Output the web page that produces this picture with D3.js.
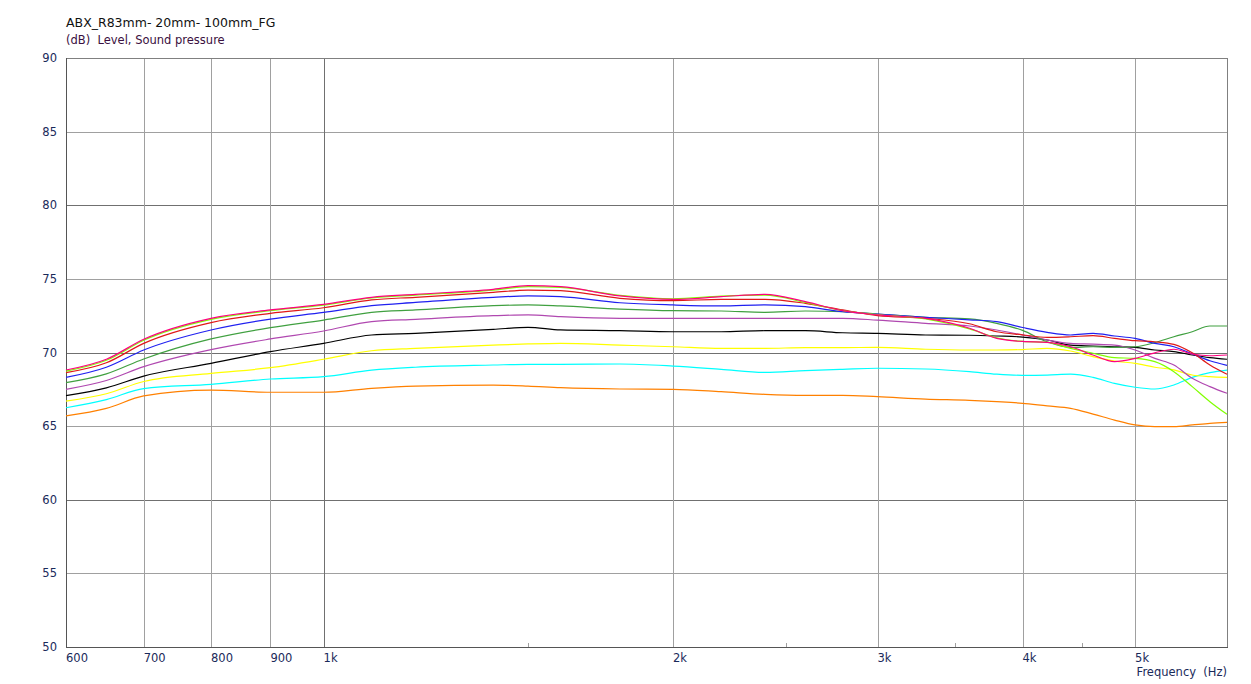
<!DOCTYPE html>
<html><head><meta charset="utf-8">
<script src="https://cdn.jsdelivr.net/npm/d3@7"></script>
<style>
html,body{margin:0;padding:0;background:#fff;}
text{font-family:"DejaVu Sans",Verdana,sans-serif;white-space:pre;}
</style></head>
<body>
<svg id="chart" width="1251" height="684"></svg>
<script>
const title = "ABX_R83mm- 20mm- 100mm_FG";
const subtitle = "(dB)  Level, Sound pressure";
const xAxisLabel = "Frequency  (Hz)";
const yTicks = [50,55,60,65,70,75,80,85,90];
const xTicks = [600,700,800,900,1000,2000,3000,4000,5000];
const xTickLabels = ["600","700","800","900","1k","2k","3k","4k","5k"];
const xMinorTicks = [1500,2500,3500,4500];

const freq = [600,650,700,800,900,1000,1100,1200,1400,1500,1600,1800,2000,2200,2400,2600,2800,3000,3300,3600,3800,4000,4200,4400,4600,4800,5000,5200,5400,5600,5800,6000];

const pink   = [68.81,69.54,70.9,72.32,72.89,73.27,73.75,73.95,74.29,74.54,74.47,73.84,73.61,73.79,73.95,73.45,72.84,72.55,72.32,71.65,70.96,70.75,70.69,70.39,69.83,69.38,69.6,69.98,70.22,69.9,69.78,69.83];
const lime   = [68.74,69.47,70.83,72.25,72.84,73.22,73.7,73.9,74.24,74.47,74.42,73.88,73.65,73.83,73.9,73.4,72.84,72.58,72.28,71.6,71.0,70.75,70.69,70.28,69.95,69.65,69.6,69.38,68.7,67.68,66.66,65.8];
const red    = [68.63,69.3,70.62,72.03,72.66,73.04,73.57,73.75,74.08,74.24,74.2,73.68,73.52,73.61,73.61,73.34,72.89,72.5,72.32,71.95,71.41,71.2,71.03,71.07,71.14,70.96,70.8,70.73,70.55,69.98,69.15,68.52];
const blue   = [68.31,69.0,70.17,71.53,72.27,72.72,73.18,73.4,73.75,73.84,73.79,73.38,73.23,73.16,73.23,73.11,72.77,72.61,72.39,72.22,72.1,71.7,71.37,71.19,71.3,71.12,70.96,70.62,70.39,69.9,69.44,69.13];
const green  = [67.95,68.55,69.56,70.92,71.69,72.2,72.73,72.89,73.18,73.23,73.16,72.95,72.84,72.82,72.73,72.82,72.77,72.61,72.39,72.28,71.98,71.5,70.73,70.35,70.39,70.35,70.39,70.67,71.07,71.41,71.8,71.8];
const purple = [67.5,68.1,69.04,70.2,70.92,71.46,72.1,72.25,72.5,72.55,72.43,72.32,72.32,72.32,72.32,72.32,72.32,72.2,71.98,71.8,71.53,71.19,70.85,70.62,70.57,70.5,70.17,69.6,69.15,68.25,67.68,67.23];
const black  = [67.07,67.6,68.4,69.26,70.06,70.62,71.19,71.3,71.57,71.71,71.53,71.48,71.41,71.41,71.48,71.48,71.34,71.3,71.19,71.17,71.12,71.05,70.85,70.5,70.44,70.39,70.35,70.17,70.06,69.83,69.65,69.54];
const yellow = [66.7,67.2,68.03,68.58,68.97,69.54,70.12,70.28,70.5,70.58,70.62,70.5,70.39,70.28,70.28,70.33,70.33,70.35,70.22,70.17,70.17,70.2,70.28,70.1,69.72,69.42,69.26,69.0,68.82,68.47,68.36,68.31];
const cyan   = [66.25,66.8,67.55,67.84,68.2,68.36,68.8,69.0,69.15,69.2,69.2,69.22,69.08,68.86,68.65,68.77,68.86,68.93,68.88,68.7,68.53,68.45,68.47,68.53,68.31,67.9,67.64,67.52,67.79,68.31,68.63,68.8];
const orange = [65.69,66.2,67.05,67.45,67.3,67.3,67.57,67.72,67.79,67.72,67.61,67.52,67.5,67.34,67.16,67.09,67.09,67.0,66.84,66.75,66.66,66.55,66.37,66.21,65.82,65.41,65.08,64.97,64.97,65.08,65.19,65.26];

const seriesNames = ["orange","cyan","yellow","black","purple","green","blue","red","lime","pink"];
const seriesValues = [orange,cyan,yellow,black,purple,green,blue,red,lime,pink];
const seriesColors = ["#ff8000","#00ffff","#ffff00","#000000","#b048b0","#40a040","#2020f0","#e01818","#80ff00","#ff0080"];

const svg = d3.select("#chart");
const L=66, R=1227, T=58, B=647;
const x = d3.scaleLog().domain([600,6000]).range([L,R]);
const y = d3.scaleLinear().domain([50,90]).range([B,T]);

const g = svg.append("g");
g.selectAll("line.hg").data(yTicks.filter(v=>v>50&&v<90)).enter().append("line")
  .attr("x1",L).attr("x2",R).attr("y1",d=>Math.round(y(d))+0.5).attr("y2",d=>Math.round(y(d))+0.5)
  .attr("stroke",d=>d%10===0?"#707070":"#a0a0a0").attr("stroke-width",1);
g.selectAll("line.vg").data(xTicks.filter(v=>v>600)).enter().append("line")
  .attr("y1",T).attr("y2",B).attr("x1",d=>Math.round(x(d))+0.5).attr("x2",d=>Math.round(x(d))+0.5)
  .attr("stroke",d=>d===1000?"#707070":"#a0a0a0").attr("stroke-width",1);
g.selectAll("line.mt").data(xMinorTicks).enter().append("line")
  .attr("y1",B-4).attr("y2",B).attr("x1",d=>Math.round(x(d))+0.5).attr("x2",d=>Math.round(x(d))+0.5)
  .attr("stroke","#a0a0a0");
g.append("rect").attr("x",L+0.5).attr("y",T+0.5).attr("width",R-L).attr("height",B-T)
  .attr("fill","none").attr("stroke","#808080");
g.append("line").attr("x1",L+0.5).attr("x2",L+0.5).attr("y1",T).attr("y2",B+1).attr("stroke","#555");
g.append("line").attr("x1",L).attr("x2",R+1).attr("y1",B+0.5).attr("y2",B+0.5).attr("stroke","#555");

const line = d3.line().x((d,i)=>x(freq[i])).y(d=>y(d)).curve(d3.curveMonotoneX);
svg.append("g").selectAll("path").data(seriesValues).enter().append("path")
  .attr("d",d=>line(d)).attr("fill","none")
  .attr("stroke",(d,i)=>seriesColors[i]).attr("stroke-width",1.2);

svg.append("g").selectAll("text").data(yTicks).enter().append("text")
  .attr("x",57).attr("y",d=>y(d)+4).attr("text-anchor","end")
  .attr("font-size",11.5).attr("fill","#1a2a5a").text(d=>d);
svg.append("g").selectAll("text").data(xTicks).enter().append("text")
  .attr("x",d=>x(d)).attr("y",662).attr("font-size",11.5).attr("fill","#1a2a5a")
  .text((d,i)=>xTickLabels[i]);
svg.append("text").attr("x",R).attr("y",676).attr("text-anchor","end")
  .attr("font-size",11.5).attr("fill","#1a2a5a").text(xAxisLabel);
svg.append("text").attr("x",66).attr("y",27).attr("font-size",12.5).attr("fill","#111").text(title);
svg.append("text").attr("x",66).attr("y",44).attr("font-size",11.5).attr("fill","#3a1040").text(subtitle);
</script>
</body></html>
